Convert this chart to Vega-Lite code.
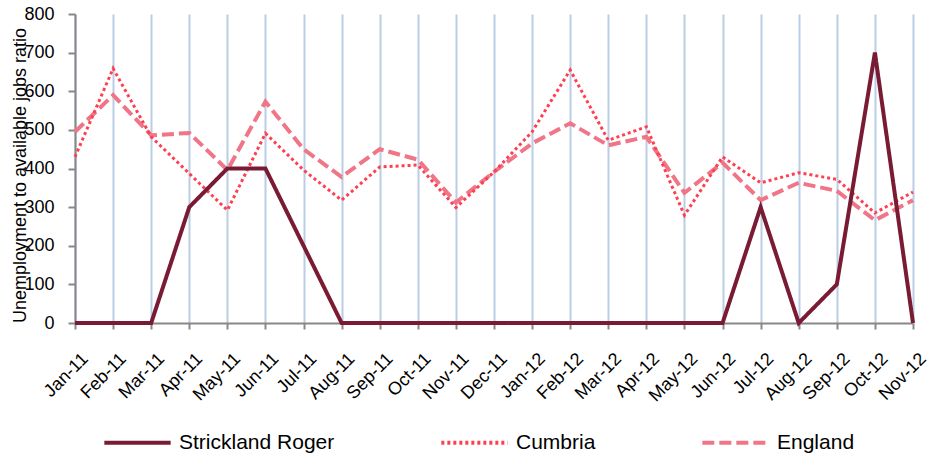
{
  "$schema": "https://vega.github.io/schema/vega-lite/v6.json",
  "autosize": {"type": "none"},
  "width": 838,
  "height": 309,
  "padding": {"left": 75, "top": 14, "right": 19, "bottom": 131},
  "background": "white",
  "config": {
    "view": {"stroke": null},
    "font": "Liberation Sans"
  },
  "data": {
    "values": [
      {"month": "Jan-11", "series": "Strickland Roger", "value": 0},
      {"month": "Feb-11", "series": "Strickland Roger", "value": 0},
      {"month": "Mar-11", "series": "Strickland Roger", "value": 0},
      {"month": "Apr-11", "series": "Strickland Roger", "value": 300},
      {"month": "May-11", "series": "Strickland Roger", "value": 400},
      {"month": "Jun-11", "series": "Strickland Roger", "value": 400},
      {"month": "Jul-11", "series": "Strickland Roger", "value": 200},
      {"month": "Aug-11", "series": "Strickland Roger", "value": 0},
      {"month": "Sep-11", "series": "Strickland Roger", "value": 0},
      {"month": "Oct-11", "series": "Strickland Roger", "value": 0},
      {"month": "Nov-11", "series": "Strickland Roger", "value": 0},
      {"month": "Dec-11", "series": "Strickland Roger", "value": 0},
      {"month": "Jan-12", "series": "Strickland Roger", "value": 0},
      {"month": "Feb-12", "series": "Strickland Roger", "value": 0},
      {"month": "Mar-12", "series": "Strickland Roger", "value": 0},
      {"month": "Apr-12", "series": "Strickland Roger", "value": 0},
      {"month": "May-12", "series": "Strickland Roger", "value": 0},
      {"month": "Jun-12", "series": "Strickland Roger", "value": 0},
      {"month": "Jul-12", "series": "Strickland Roger", "value": 300},
      {"month": "Aug-12", "series": "Strickland Roger", "value": 0},
      {"month": "Sep-12", "series": "Strickland Roger", "value": 100},
      {"month": "Oct-12", "series": "Strickland Roger", "value": 700},
      {"month": "Nov-12", "series": "Strickland Roger", "value": 0},
      {"month": "Jan-11", "series": "Cumbria", "value": 430},
      {"month": "Feb-11", "series": "Cumbria", "value": 659},
      {"month": "Mar-11", "series": "Cumbria", "value": 482},
      {"month": "Apr-11", "series": "Cumbria", "value": 387},
      {"month": "May-11", "series": "Cumbria", "value": 292},
      {"month": "Jun-11", "series": "Cumbria", "value": 491},
      {"month": "Jul-11", "series": "Cumbria", "value": 396},
      {"month": "Aug-11", "series": "Cumbria", "value": 318},
      {"month": "Sep-11", "series": "Cumbria", "value": 404},
      {"month": "Oct-11", "series": "Cumbria", "value": 409},
      {"month": "Nov-11", "series": "Cumbria", "value": 299},
      {"month": "Dec-11", "series": "Cumbria", "value": 391},
      {"month": "Jan-12", "series": "Cumbria", "value": 495},
      {"month": "Feb-12", "series": "Cumbria", "value": 655},
      {"month": "Mar-12", "series": "Cumbria", "value": 473},
      {"month": "Apr-12", "series": "Cumbria", "value": 508},
      {"month": "May-12", "series": "Cumbria", "value": 279},
      {"month": "Jun-12", "series": "Cumbria", "value": 430},
      {"month": "Jul-12", "series": "Cumbria", "value": 363},
      {"month": "Aug-12", "series": "Cumbria", "value": 389},
      {"month": "Sep-12", "series": "Cumbria", "value": 372},
      {"month": "Oct-12", "series": "Cumbria", "value": 285},
      {"month": "Nov-12", "series": "Cumbria", "value": 339},
      {"month": "Jan-11", "series": "England", "value": 495},
      {"month": "Feb-11", "series": "England", "value": 590},
      {"month": "Mar-11", "series": "England", "value": 486},
      {"month": "Apr-11", "series": "England", "value": 492},
      {"month": "May-11", "series": "England", "value": 396},
      {"month": "Jun-11", "series": "England", "value": 573},
      {"month": "Jul-11", "series": "England", "value": 450},
      {"month": "Aug-11", "series": "England", "value": 378},
      {"month": "Sep-11", "series": "England", "value": 450},
      {"month": "Oct-11", "series": "England", "value": 423},
      {"month": "Nov-11", "series": "England", "value": 312},
      {"month": "Dec-11", "series": "England", "value": 391},
      {"month": "Jan-12", "series": "England", "value": 465},
      {"month": "Feb-12", "series": "England", "value": 517},
      {"month": "Mar-12", "series": "England", "value": 460},
      {"month": "Apr-12", "series": "England", "value": 482},
      {"month": "May-12", "series": "England", "value": 337},
      {"month": "Jun-12", "series": "England", "value": 415},
      {"month": "Jul-12", "series": "England", "value": 318},
      {"month": "Aug-12", "series": "England", "value": 363},
      {"month": "Sep-12", "series": "England", "value": 342},
      {"month": "Oct-12", "series": "England", "value": 266},
      {"month": "Nov-12", "series": "England", "value": 318}
    ]
  },
  "encoding": {
    "x": {
      "field": "month",
      "type": "ordinal",
      "sort": null,
      "scale": {"type": "point", "padding": 0},
      "axis": {
        "title": null,
        "grid": true,
        "gridColor": "#B9CDE5",
        "gridWidth": 2,
        "domainColor": "#888888",
        "domainWidth": 2,
        "tickColor": "#888888",
        "tickWidth": 2,
        "tickSize": 6,
        "labelAngle": -45,
        "labelAlign": "right",
        "labelBaseline": "middle",
        "labelPadding": 27,
        "labelOffset": 10,
        "labelFontSize": 18,
        "labelColor": "#000000",
        "labelFont": "Liberation Sans"
      }
    },
    "y": {
      "field": "value",
      "type": "quantitative",
      "scale": {"domain": [0, 800], "nice": false, "zero": true},
      "axis": {
        "values": [0, 100, 200, 300, 400, 500, 600, 700, 800],
        "grid": false,
        "domainColor": "#888888",
        "domainWidth": 2,
        "tickColor": "#888888",
        "tickWidth": 2,
        "tickSize": 7,
        "labelPadding": 14,
        "labelFontSize": 18,
        "labelColor": "#000000",
        "labelFont": "Liberation Sans",
        "title": "Unemployment to available jobs ratio",
        "titleFont": "Liberation Sans",
        "titleFontSize": 18,
        "titleFontWeight": "normal",
        "titleColor": "#000000",
        "titleX": -55,
        "titleY": 161,
        "titleAngle": -90,
        "titleAlign": "center",
        "titleBaseline": "middle"
      }
    },
    "color": {
      "field": "series",
      "type": "nominal",
      "scale": {
        "domain": ["Strickland Roger", "Cumbria", "England"],
        "range": ["#7A1B34", "#FF3F50", "#F07587"]
      },
      "legend": {
        "title": null,
        "orient": "none",
        "direction": "horizontal",
        "columns": 3,
        "legendX": 27,
        "legendY": 393,
        "symbolType": "stroke",
        "symbolSize": 4400,
        "symbolStrokeWidth": 4,
        "labelFontSize": 21,
        "labelFont": "Liberation Sans",
        "labelColor": "#000000",
        "labelOffset": 6,
        "labelLimit": 400,
        "columnPadding": 98
      }
    },
    "strokeDash": {
      "field": "series",
      "type": "nominal",
      "scale": {
        "domain": ["Strickland Roger", "Cumbria", "England"],
        "range": [[1, 0], [3, 3], [12, 5]]
      },
      "legend": null
    }
  },
  "layer": [
    {
      "transform": [{"filter": "datum.series === 'England'"}],
      "mark": {"type": "line", "strokeWidth": 4}
    },
    {
      "transform": [{"filter": "datum.series === 'Cumbria'"}],
      "mark": {"type": "line", "strokeWidth": 3}
    },
    {
      "transform": [{"filter": "datum.series === 'Strickland Roger'"}],
      "mark": {"type": "line", "strokeWidth": 4}
    }
  ]
}
